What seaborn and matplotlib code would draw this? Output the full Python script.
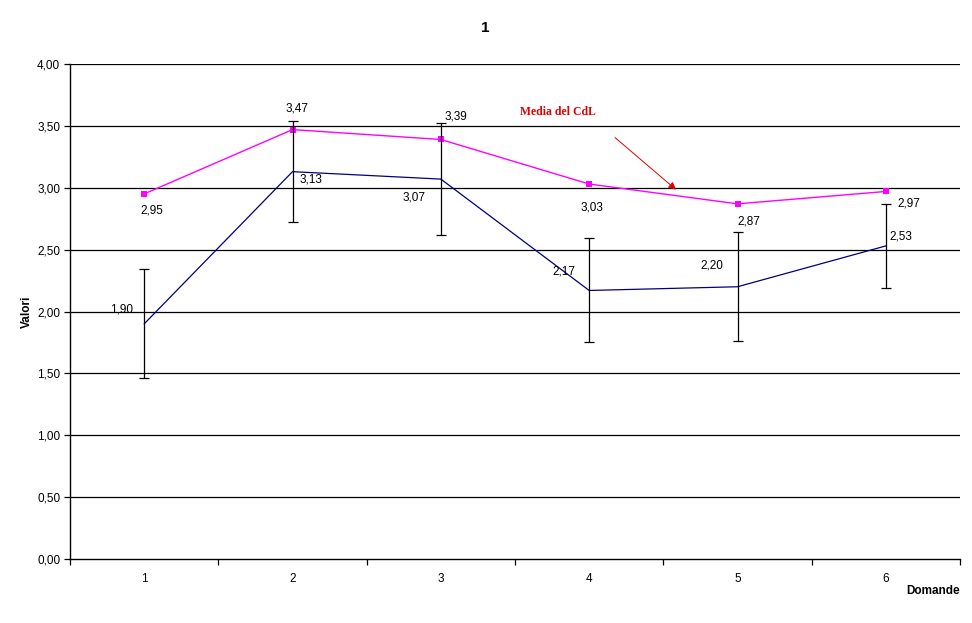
import matplotlib
matplotlib.use('Agg')
import numpy as np
import pandas as pd
import matplotlib.pyplot as plt
import seaborn as sns
from matplotlib.ticker import FuncFormatter, MultipleLocator

# Dati
domande = [1, 2, 3, 4, 5, 6]
valori_corso = [1.90, 3.13, 3.07, 2.17, 2.20, 2.53]
errori_corso = [0.44, 0.41, 0.45, 0.42, 0.44, 0.34]
media_cdl = [2.95, 3.47, 3.39, 3.03, 2.87, 2.97]

# spostamenti delle etichette (pixel)
off_corso = [(-23, 14), (18, -8), (-27, -18), (-25, 19), (-26, 21), (15, 9)]
off_cdl = [(8, -17), (5, 21), (15, 23), (3, -23), (11, -18), (23, -12)]

df = pd.DataFrame({'Domande': domande, 'Corso': valori_corso,
                   'Errore': errori_corso, 'CdL': media_cdl})

sns.set_style('white')
plt.rcParams['font.family'] = ['Liberation Sans', 'DejaVu Sans']
plt.rcParams['text.color'] = 'black'
plt.rcParams['axes.labelcolor'] = 'black'
plt.rcParams['xtick.color'] = 'black'
plt.rcParams['ytick.color'] = 'black'

fig = plt.figure(figsize=(9.72, 6.23), dpi=100)
ax = fig.add_axes([70 / 972, 1 - 559 / 623, 890 / 972, 495 / 623])

# griglia orizzontale
for v in np.arange(0.5, 4.01, 0.5):
    ax.axhline(v, color='black', lw=0.9, zorder=0)

sns.lineplot(data=df, x='Domande', y='Corso', color='#000080', lw=0.9, ax=ax, zorder=2)
sns.lineplot(data=df, x='Domande', y='CdL', color='#FF00FF', lw=1.0, marker='s',
             markersize=5, markeredgewidth=0, ax=ax, zorder=3)
ax.errorbar(df['Domande'], df['Corso'], yerr=df['Errore'], fmt='none',
            ecolor='black', elinewidth=0.9, capsize=3.5, capthick=0.9, zorder=4)

fmt = lambda v: f'{v:.2f}'.replace('.', ',')
for x, v, o in zip(domande, valori_corso, off_corso):
    ax.annotate(fmt(v), (x, v), xytext=o, textcoords='offset pixels',
                ha='center', va='center', fontsize=8.5, color='black')
for x, v, o in zip(domande, media_cdl, off_cdl):
    ax.annotate(fmt(v), (x, v), xytext=o, textcoords='offset pixels',
                ha='center', va='center', fontsize=8.5, color='black')

ax.annotate('', xy=(4.60, 2.97), xytext=(4.16, 3.42),
            arrowprops=dict(arrowstyle='-|>', color='#E00000', lw=0.7, mutation_scale=11))
ax.text(3.79, 3.61, 'Media del CdL', color='#E00000', fontsize=8.5, fontweight='bold',
        family=['Liberation Serif', 'DejaVu Serif'], ha='center', va='center')

ax.set_xlim(0.5, 6.5)
ax.set_ylim(0, 4)
ax.yaxis.set_major_locator(MultipleLocator(0.5))
ax.yaxis.set_major_formatter(FuncFormatter(lambda v, p: fmt(v)))
ax.set_xticks(domande)
ax.set_xticks(np.arange(0.5, 6.6, 1), minor=True)
ax.tick_params(axis='x', which='major', length=0, pad=10, labelsize=8.5)
ax.tick_params(axis='x', which='minor', length=4, width=0.9, direction='out', bottom=True)
ax.tick_params(axis='y', length=4, width=0.9, direction='out', left=True, pad=3, labelsize=8.5)

for s in ['top', 'right']:
    ax.spines[s].set_visible(False)
for s in ['left', 'bottom']:
    ax.spines[s].set_color('black')
    ax.spines[s].set_linewidth(1.0)

ax.set_ylabel('Valori', fontweight='bold', fontsize=8.5, labelpad=3)
ax.set_xlabel('Domande', fontweight='bold', fontsize=8.5, loc='right', labelpad=0)
fig.text(485 / 972, 1 - 28 / 623, '1', fontweight='bold', fontsize=11,
         ha='center', va='center')

fig.savefig('out.png', dpi=100)
